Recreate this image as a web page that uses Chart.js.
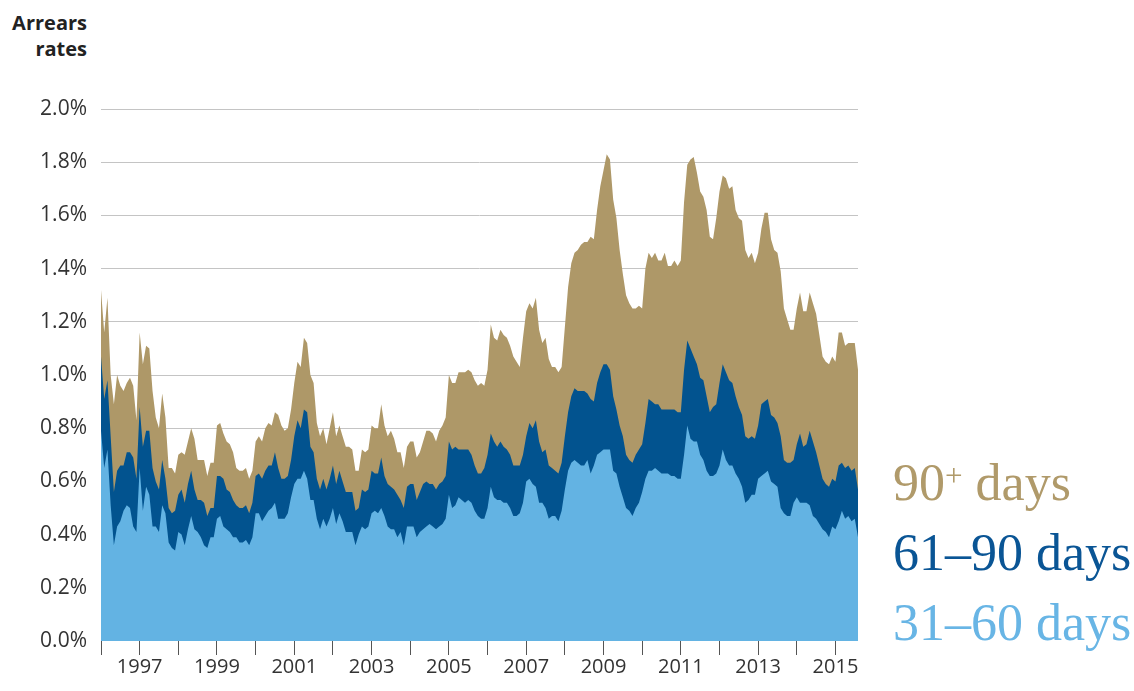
<!DOCTYPE html>
<html>
<head>
<meta charset="utf-8">
<script src="https://cdn.jsdelivr.net/npm/chart.js@4"></script>
<style>
  body { margin: 0; background: #fff; width: 1134px; height: 691px; position: relative; overflow: hidden; }
  #wrap { position: absolute; left: 0; top: 0; width: 900px; height: 691px; }
  .title { position: absolute; left: 0; top: 10px; width: 87px; text-align: right;
    font: bold 20px "Open Sans", sans-serif; line-height: 26px; color: #222; }
  .legend { position: absolute; left: 893px; font-family: "Liberation Serif", serif;
    font-size: 52px; line-height: 52px; white-space: nowrap; }
  .legend sup { font-size: 0.6em; vertical-align: 0.45em; line-height: 0; }
</style>
</head>
<body>
<div class="title">Arrears<br>rates</div>
<div id="wrap"><canvas id="arrears" width="900" height="691"></canvas></div>
<div class="legend" style="top:457px;color:#b09a6a">90<sup>+</sup> days</div>
<div class="legend" style="top:527px;color:#0a5595">61–90 days</div>
<div class="legend" style="top:597px;color:#68b5e5">31–60 days</div>
<script>
  // monthly, Jan 1996 - Aug 2015, per cent of loans
  // values are the top edge of each band
  const startYear = 1996;
  const monthCount = 236;
  const labelledYears = [1997, 1999, 2001, 2003, 2005, 2007, 2009, 2011, 2013, 2015];
  const yTicks = [0, 0.2, 0.4, 0.6, 0.8, 1.0, 1.2, 1.4, 1.6, 1.8, 2.0];

  const months = [];
  for (let i = 0; i < monthCount; i++) {
    const y = startYear + Math.floor(i / 12);
    months.push(y + "-" + String((i % 12) + 1).padStart(2, "0"));
  }

  // top of the 90+ band (= all arrears)
  const band90plusTop = [
    1.32, 1.16, 1.29, 1.00, 0.89, 1.00, 0.96, 0.94, 0.97, 0.99, 0.96, 0.83,
    1.16, 1.04, 1.11, 1.10, 0.94, 0.84, 0.80, 0.93, 0.84, 0.65, 0.65, 0.63,
    0.70, 0.71, 0.70, 0.75, 0.80, 0.76, 0.68, 0.68, 0.68, 0.62, 0.67, 0.67,
    0.81, 0.82, 0.78, 0.75, 0.74, 0.71, 0.65, 0.64, 0.64, 0.65, 0.61, 0.64,
    0.75, 0.77, 0.75, 0.80, 0.82, 0.81, 0.86, 0.85, 0.81, 0.79, 0.80, 0.87,
    0.97, 1.05, 1.03, 1.14, 1.12, 1.00, 0.97, 0.82, 0.77, 0.80, 0.74, 0.80,
    0.86, 0.77, 0.81, 0.77, 0.73, 0.73, 0.72, 0.64, 0.64, 0.72, 0.71, 0.72,
    0.81, 0.80, 0.80, 0.89, 0.81, 0.77, 0.79, 0.76, 0.71, 0.71, 0.65, 0.73,
    0.75, 0.75, 0.69, 0.71, 0.75, 0.79, 0.79, 0.78, 0.75, 0.79, 0.81, 0.84,
    1.00, 0.97, 0.97, 1.01, 1.01, 1.01, 1.02, 1.01, 0.98, 0.96, 0.97, 0.96,
    1.02, 1.19, 1.14, 1.13, 1.17, 1.15, 1.14, 1.11, 1.07, 1.05, 1.03, 1.14,
    1.24, 1.27, 1.25, 1.29, 1.17, 1.12, 1.14, 1.06, 1.03, 1.03, 1.01, 1.03,
    1.18, 1.33, 1.42, 1.46, 1.47, 1.49, 1.50, 1.50, 1.52, 1.51, 1.62, 1.71,
    1.77, 1.83, 1.81, 1.66, 1.59, 1.47, 1.38, 1.30, 1.27, 1.25, 1.25, 1.26,
    1.25, 1.40, 1.46, 1.44, 1.46, 1.43, 1.43, 1.46, 1.41, 1.41, 1.43, 1.41,
    1.43, 1.65, 1.79, 1.81, 1.82, 1.76, 1.69, 1.67, 1.62, 1.52, 1.51, 1.59,
    1.69, 1.75, 1.74, 1.70, 1.71, 1.62, 1.59, 1.58, 1.47, 1.44, 1.46, 1.42,
    1.46, 1.55, 1.61, 1.61, 1.51, 1.47, 1.46, 1.39, 1.25, 1.21, 1.17, 1.17,
    1.25, 1.31, 1.24, 1.24, 1.31, 1.27, 1.23, 1.15, 1.07, 1.05, 1.04, 1.07,
    1.05, 1.16, 1.16, 1.11, 1.12, 1.12, 1.12, 1.02,
  ];

  // top of the 61-90 band
  const band61to90Top = [
    1.07, 0.91, 0.98, 0.77, 0.56, 0.64, 0.66, 0.66, 0.71, 0.71, 0.69, 0.61,
    0.88, 0.73, 0.79, 0.79, 0.65, 0.60, 0.57, 0.68, 0.61, 0.50, 0.48, 0.49,
    0.55, 0.57, 0.52, 0.59, 0.64, 0.57, 0.53, 0.53, 0.52, 0.47, 0.50, 0.50,
    0.62, 0.62, 0.61, 0.57, 0.56, 0.53, 0.51, 0.50, 0.50, 0.51, 0.48, 0.52,
    0.62, 0.63, 0.61, 0.64, 0.66, 0.66, 0.71, 0.65, 0.61, 0.61, 0.62, 0.68,
    0.77, 0.83, 0.80, 0.87, 0.86, 0.73, 0.71, 0.61, 0.57, 0.61, 0.57, 0.61,
    0.66, 0.59, 0.64, 0.60, 0.56, 0.56, 0.56, 0.49, 0.50, 0.57, 0.56, 0.57,
    0.64, 0.63, 0.63, 0.69, 0.62, 0.59, 0.58, 0.57, 0.55, 0.53, 0.50, 0.58,
    0.59, 0.59, 0.53, 0.56, 0.59, 0.60, 0.59, 0.59, 0.57, 0.59, 0.60, 0.62,
    0.75, 0.72, 0.73, 0.72, 0.72, 0.72, 0.72, 0.70, 0.66, 0.63, 0.63, 0.65,
    0.70, 0.78, 0.75, 0.73, 0.75, 0.73, 0.72, 0.70, 0.66, 0.66, 0.66, 0.70,
    0.77, 0.82, 0.80, 0.83, 0.75, 0.71, 0.72, 0.66, 0.65, 0.64, 0.63, 0.67,
    0.77, 0.86, 0.92, 0.95, 0.94, 0.94, 0.94, 0.93, 0.91, 0.90, 0.97, 1.01,
    1.04, 1.04, 1.02, 0.92, 0.87, 0.81, 0.77, 0.70, 0.68, 0.67, 0.70, 0.72,
    0.74, 0.82, 0.91, 0.90, 0.89, 0.89, 0.87, 0.87, 0.87, 0.87, 0.87, 0.86,
    0.86, 1.02, 1.13, 1.10, 1.07, 1.04, 0.99, 0.98, 0.92, 0.86, 0.88, 0.89,
    0.97, 1.04, 1.01, 0.98, 0.97, 0.92, 0.88, 0.85, 0.77, 0.76, 0.77, 0.76,
    0.81, 0.89, 0.90, 0.91, 0.85, 0.84, 0.82, 0.77, 0.68, 0.67, 0.67, 0.68,
    0.74, 0.78, 0.73, 0.74, 0.79, 0.75, 0.71, 0.66, 0.61, 0.59, 0.58, 0.61,
    0.60, 0.66, 0.67, 0.65, 0.66, 0.64, 0.65, 0.57,
  ];

  // top of the 31-60 band
  const band31to60Top = [
    0.79, 0.65, 0.72, 0.51, 0.36, 0.43, 0.45, 0.49, 0.51, 0.50, 0.43, 0.41,
    0.65, 0.49, 0.58, 0.55, 0.43, 0.43, 0.41, 0.51, 0.48, 0.37, 0.35, 0.34,
    0.41, 0.40, 0.36, 0.42, 0.47, 0.42, 0.41, 0.39, 0.36, 0.35, 0.39, 0.39,
    0.46, 0.47, 0.43, 0.42, 0.41, 0.39, 0.39, 0.37, 0.37, 0.38, 0.36, 0.39,
    0.48, 0.48, 0.45, 0.47, 0.49, 0.50, 0.52, 0.46, 0.46, 0.46, 0.48, 0.54,
    0.59, 0.61, 0.61, 0.64, 0.61, 0.53, 0.53, 0.46, 0.42, 0.46, 0.43, 0.46,
    0.50, 0.44, 0.48, 0.45, 0.41, 0.41, 0.41, 0.36, 0.40, 0.43, 0.42, 0.43,
    0.48, 0.49, 0.48, 0.50, 0.47, 0.43, 0.42, 0.42, 0.39, 0.41, 0.36, 0.43,
    0.43, 0.43, 0.39, 0.41, 0.42, 0.43, 0.44, 0.43, 0.42, 0.43, 0.44, 0.46,
    0.55, 0.50, 0.51, 0.54, 0.53, 0.52, 0.53, 0.52, 0.49, 0.47, 0.46, 0.46,
    0.50, 0.58, 0.54, 0.53, 0.53, 0.52, 0.52, 0.50, 0.47, 0.47, 0.48, 0.52,
    0.60, 0.61, 0.59, 0.58, 0.52, 0.52, 0.50, 0.46, 0.47, 0.47, 0.45, 0.49,
    0.57, 0.64, 0.67, 0.68, 0.67, 0.66, 0.66, 0.68, 0.63, 0.66, 0.70, 0.71,
    0.72, 0.72, 0.72, 0.64, 0.63, 0.58, 0.54, 0.50, 0.49, 0.47, 0.50, 0.52,
    0.56, 0.61, 0.64, 0.64, 0.65, 0.64, 0.63, 0.63, 0.63, 0.62, 0.62, 0.61,
    0.61, 0.70, 0.81, 0.76, 0.75, 0.75, 0.70, 0.68, 0.64, 0.62, 0.62, 0.63,
    0.66, 0.72, 0.68, 0.66, 0.66, 0.63, 0.61, 0.58, 0.52, 0.53, 0.55, 0.55,
    0.61, 0.62, 0.63, 0.64, 0.60, 0.59, 0.58, 0.50, 0.48, 0.47, 0.47, 0.52,
    0.54, 0.52, 0.52, 0.52, 0.51, 0.47, 0.46, 0.44, 0.42, 0.41, 0.39, 0.43,
    0.42, 0.45, 0.49, 0.46, 0.47, 0.45, 0.46, 0.39,
  ];

  const tan = "#ae9868";
  const darkBlue = "#02538f";
  const lightBlue = "#63b3e3";

  const band = (label, data, color) => ({
    label,
    data,
    backgroundColor: color,
    borderWidth: 0,
    pointRadius: 0,
    tension: 0,
    fill: "origin",
  });

  new Chart(document.getElementById("arrears"), {
    type: "line",
    data: {
      labels: months,
      // first dataset is drawn on top
      datasets: [
        band("31–60 days", band31to60Top, lightBlue),
        band("61–90 days", band61to90Top, darkBlue),
        band("90+ days", band90plusTop, tan),
      ],
    },
    options: {
      responsive: false,
      animation: false,
      devicePixelRatio: 1,
      layout: { padding: { top: 109, right: 42, left: 0, bottom: 0 } },
      plugins: {
        legend: { display: false },
        tooltip: { enabled: false },
      },
      scales: {
        x: {
          type: "category",
          offset: false,
          afterFit: (scale) => { scale.height = 50; },
          border: { display: false },
          grid: {
            drawOnChartArea: false,
            drawTicks: true,
            tickLength: 14,
            tickWidth: 1,
            tickColor: (ctx) => (ctx.index % 12 === 0 ? "#555" : "rgba(0,0,0,0)"),
          },
          ticks: {
            autoSkip: false,
            maxRotation: 0,
            padding: 0,
            color: "#333",
            font: { family: "Open Sans", size: 20 },
            callback: (value, index) => {
              if (index % 12 !== 0) return "";
              const year = startYear + index / 12;
              return labelledYears.includes(year) ? String(year) : "";
            },
          },
        },
        y: {
          min: 0,
          max: 2,
          afterFit: (scale) => { scale.width = 101; },
          afterBuildTicks: (scale) => {
            scale.ticks = yTicks.map((v) => ({ value: v }));
          },
          border: { display: false },
          grid: {
            color: (ctx) => (ctx.tick && ctx.tick.value === 0 ? "rgba(0,0,0,0)" : "#c4c4c4"),
            lineWidth: 1,
            drawTicks: false,
          },
          ticks: {
            padding: 14,
            color: "#333",
            font: { family: "Open Sans", size: 21 },
            callback: (v) => Number(v).toFixed(1) + "%",
          },
        },
      },
    },
  });
</script>
</body>
</html>
